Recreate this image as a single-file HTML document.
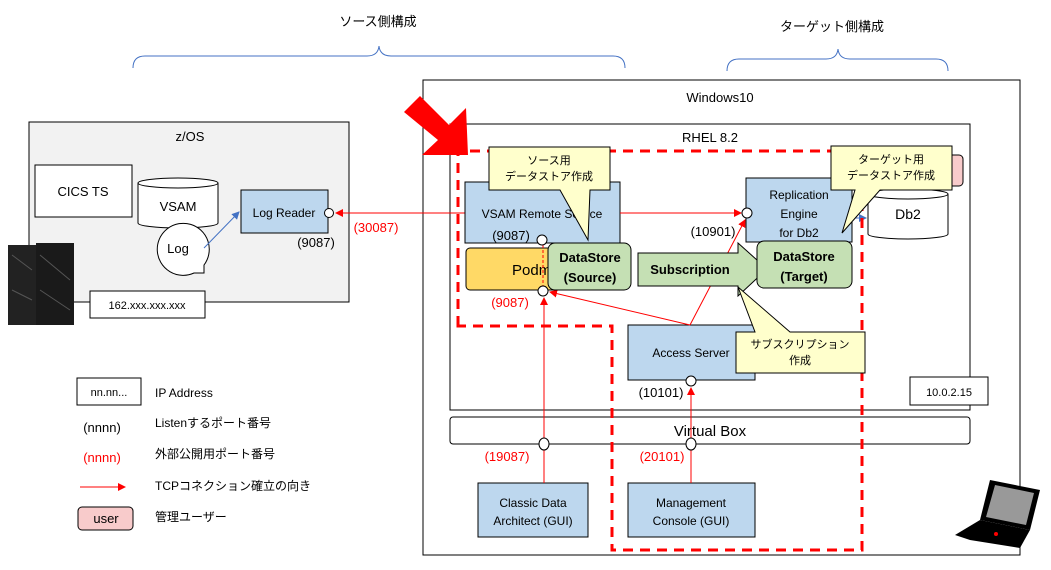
<!DOCTYPE html>
<html><head><meta charset="utf-8"><style>
body{margin:0;background:#fff;}
svg{display:block;font-family:"Liberation Sans","Noto Sans CJK JP",sans-serif;}
</style></head><body>
<svg width="1051" height="570" viewBox="0 0 1051 570" xmlns="http://www.w3.org/2000/svg">
<defs>
<marker id="ar" markerWidth="8" markerHeight="8" refX="7" refY="4" orient="auto" markerUnits="userSpaceOnUse"><path d="M0,0 L8,4 L0,8z" fill="#f00"/></marker>
<marker id="ab" markerWidth="8" markerHeight="8" refX="7" refY="4" orient="auto" markerUnits="userSpaceOnUse"><path d="M0,0 L8,4 L0,8z" fill="#4472c4"/></marker>
</defs>
<g font-size="13" fill="#000">
<text x="378" y="26" text-anchor="middle">ソース側構成</text>
<text x="832" y="31" text-anchor="middle">ターゲット側構成</text>
</g>
<path d="M133,68 Q133,56 145,56 L367,56 Q378,56 379,46 Q380,56 391,56 L613,56 Q625,56 625,68" fill="none" stroke="#4472c4"/>
<path d="M727,71 Q727,59 739,59 L826,59 Q837,59 838,49 Q839,59 850,59 L936,59 Q948,59 948,71" fill="none" stroke="#4472c4"/>

<rect x="423" y="80" width="597" height="475" fill="#fff" stroke="#000"/>
<text x="720" y="102" font-size="13" text-anchor="middle">Windows10</text>
<rect x="450" y="124" width="520" height="286" fill="#fff" stroke="#000"/>
<text x="710" y="142" font-size="13" text-anchor="middle">RHEL 8.2</text>
<rect x="450" y="417" width="520" height="27" rx="3" fill="#fff" stroke="#000"/>
<text x="710" y="436" font-size="15" text-anchor="middle">Virtual Box</text>
<rect x="910" y="377" width="78" height="28" fill="#fff" stroke="#000"/>
<text x="949" y="396" font-size="11" text-anchor="middle">10.0.2.15</text>

<rect x="29" y="122" width="320" height="180" fill="#f2f2f2" stroke="#000"/>
<text x="190" y="141" font-size="13" text-anchor="middle">z/OS</text>
<rect x="35" y="165" width="97" height="52" fill="#fff" stroke="#000"/>
<text x="83" y="196" font-size="13" text-anchor="middle">CICS TS</text>
<path d="M138,183 L138,223 A40,5 0 0 0 218,223 L218,183" fill="#fff" stroke="#000"/>
<ellipse cx="178" cy="183" rx="40" ry="5" fill="#fff" stroke="#000"/>
<text x="178" y="211" font-size="13" text-anchor="middle">VSAM</text>
<path d="M204,265 A26,26 0 1 0 194,273 L204,273 Z" fill="#fff" stroke="#000"/>
<text x="178" y="253" font-size="13" text-anchor="middle">Log</text>
<line x1="204" y1="248" x2="239" y2="212" stroke="#4472c4" marker-end="url(#ab)"/>
<rect x="241" y="190" width="87" height="43" fill="#bdd7ee" stroke="#000"/>
<text x="284" y="217" font-size="12" text-anchor="middle">Log Reader</text>
<text x="316" y="247" font-size="13" text-anchor="middle">(9087)</text>
<rect x="90" y="291" width="115" height="27" fill="#fff" stroke="#000"/>
<text x="147" y="309" font-size="11" text-anchor="middle">162.xxx.xxx.xxx</text>
<rect x="8" y="245" width="28" height="80" fill="#222"/>
<rect x="36" y="243" width="38" height="82" fill="#1a1a1a"/>
<path d="M12,255 L32,270 M40,255 L70,280 M12,290 L32,300 M40,290 L70,310" stroke="#555"/>

<line x1="465" y1="213" x2="336" y2="213" stroke="#f00" marker-end="url(#ar)"/>
<circle cx="329" cy="213" r="4.5" fill="#fff" stroke="#000"/>
<text x="376" y="232" font-size="13" fill="#f00" text-anchor="middle">(30087)</text>

<polygon points="404,112 420,96 449,125 466,108 468,155 422,155 438,140" fill="#f00"/>

<rect x="465" y="182" width="155" height="61" fill="#bdd7ee" stroke="#000"/>
<text x="542" y="218" font-size="12" text-anchor="middle">VSAM Remote Source</text>
<rect x="466" y="248" width="154" height="42" rx="4" fill="#ffd966" stroke="#000"/>
<text x="512" y="275" font-size="15">Podm</text>
<rect x="746" y="178" width="106" height="64" fill="#bdd7ee" stroke="#000"/>
<g font-size="12" text-anchor="middle"><text x="799" y="199">Replication</text><text x="799" y="218">Engine</text><text x="799" y="237">for Db2</text></g>
<rect x="835" y="155" width="128" height="31" rx="4" fill="#f8cbcb" stroke="#000"/>
<path d="M868,194 L868,234 A40,5 0 0 0 948,234 L948,194" fill="#fff" stroke="#000"/>
<ellipse cx="908" cy="194" rx="40" ry="5" fill="#fff" stroke="#000"/>
<text x="908" y="219" font-size="14" text-anchor="middle">Db2</text>
<line x1="852" y1="218" x2="866" y2="218" stroke="#4472c4" marker-end="url(#ab)"/>
<rect x="628" y="325" width="127" height="55" fill="#bdd7ee" stroke="#000"/>
<text x="691" y="357" font-size="12" text-anchor="middle">Access Server</text>
<rect x="478" y="483" width="110" height="54" fill="#bdd7ee" stroke="#000"/>
<g font-size="12" text-anchor="middle"><text x="533" y="507">Classic Data</text><text x="533" y="525">Architect (GUI)</text></g>
<rect x="628" y="483" width="127" height="54" fill="#bdd7ee" stroke="#000"/>
<g font-size="12" text-anchor="middle"><text x="691" y="507">Management</text><text x="691" y="525">Console (GUI)</text></g>

<line x1="620" y1="213" x2="741" y2="213" stroke="#f00" marker-end="url(#ar)"/>
<line x1="690" y1="325" x2="550" y2="292" stroke="#f00" marker-end="url(#ar)"/>
<line x1="690" y1="325" x2="745" y2="220" stroke="#f00" marker-end="url(#ar)"/>
<line x1="544" y1="483" x2="544" y2="298" stroke="#f00" marker-end="url(#ar)"/>
<line x1="691" y1="483" x2="691" y2="388" stroke="#f00" marker-end="url(#ar)"/>
<line x1="543" y1="245" x2="543" y2="287" stroke="#f00" stroke-dasharray="3,2"/>

<circle cx="542" cy="240" r="5" fill="#fff" stroke="#000"/>
<circle cx="543" cy="291" r="5" fill="#fff" stroke="#000"/>
<circle cx="747" cy="213" r="5" fill="#fff" stroke="#000"/>
<circle cx="691" cy="381" r="5" fill="#fff" stroke="#000"/>
<ellipse cx="544" cy="444" rx="5" ry="6" fill="#fff" stroke="#000"/>
<ellipse cx="691" cy="444" rx="5" ry="6" fill="#fff" stroke="#000"/>
<g font-size="13" text-anchor="middle">
<text x="511" y="240">(9087)</text>
<text x="713" y="236">(10901)</text>
<text x="661" y="397">(10101)</text>
<text x="510" y="307" fill="#f00">(9087)</text>
<text x="507" y="461" fill="#f00">(19087)</text>
<text x="662" y="461" fill="#f00">(20101)</text>
</g>

<rect x="548" y="243" width="83" height="47" rx="7" fill="#c5e0b4" stroke="#000"/>
<g font-size="13" font-weight="bold" text-anchor="middle"><text x="590" y="262">DataStore</text><text x="590" y="282">(Source)</text></g>
<polygon points="638,253 738,253 738,243 767,269 738,296 738,286 638,286" fill="#c5e0b4" stroke="#000"/>
<text x="690" y="274" font-size="13" font-weight="bold" text-anchor="middle">Subscription</text>
<rect x="757" y="241" width="95" height="47" rx="7" fill="#c5e0b4" stroke="#000"/>
<g font-size="13" font-weight="bold" text-anchor="middle"><text x="804" y="261">DataStore</text><text x="804" y="281">(Target)</text></g>

<path d="M458,326 L458,151 L862,151 L862,550 L612,550 L612,326 Z" fill="none" stroke="#f00" stroke-width="3" stroke-dasharray="10,7"/>

<path d="M489,147 L610,147 L610,190 L590,190 L588,240 L560,190 L489,190 Z" fill="#ffffcc" stroke="#000"/>
<g font-size="11" text-anchor="middle"><text x="549" y="164">ソース用</text><text x="549" y="180">データストア作成</text></g>
<path d="M831,146 L952,146 L952,190 L880,190 L842,233 L855,190 L831,190 Z" fill="#ffffcc" stroke="#000"/>
<g font-size="11" text-anchor="middle"><text x="891" y="163">ターゲット用</text><text x="891" y="179">データストア作成</text></g>
<path d="M736,332 L755,332 L738,287 L790,332 L865,332 L865,373 L736,373 Z" fill="#ffffcc" stroke="#000"/>
<g font-size="11" text-anchor="middle"><text x="800" y="348">サブスクリプション</text><text x="800" y="364">作成</text></g>

<polygon points="990,480 1040,490 1030,530 980,520" fill="#000"/>
<polygon points="995,485 1034,493 1026,525 986,517" fill="#999"/>
<polygon points="980,520 1030,530 1020,548 970,540 955,535" fill="#000"/>
<circle cx="996" cy="534" r="2" fill="#f00"/>

<rect x="77" y="378" width="64" height="27" fill="#fff" stroke="#000"/>
<text x="109" y="396" font-size="11" text-anchor="middle">nn.nn...</text>
<g font-size="12">
<text x="155" y="397">IP Address</text>
<text x="155" y="427">Listenするポート番号</text>
<text x="155" y="458">外部公開用ポート番号</text>
<text x="155" y="490">TCPコネクション確立の向き</text>
<text x="155" y="521">管理ユーザー</text>
</g>
<text x="102" y="432" font-size="13" text-anchor="middle">(nnnn)</text>
<text x="102" y="462" font-size="13" fill="#f00" text-anchor="middle">(nnnn)</text>
<line x1="80" y1="487" x2="125" y2="487" stroke="#f00" marker-end="url(#ar)"/>
<rect x="78" y="507" width="55" height="23" rx="4" fill="#f8cbcb" stroke="#000"/>
<text x="106" y="523" font-size="13" text-anchor="middle">user</text>
</svg>
</body></html>
